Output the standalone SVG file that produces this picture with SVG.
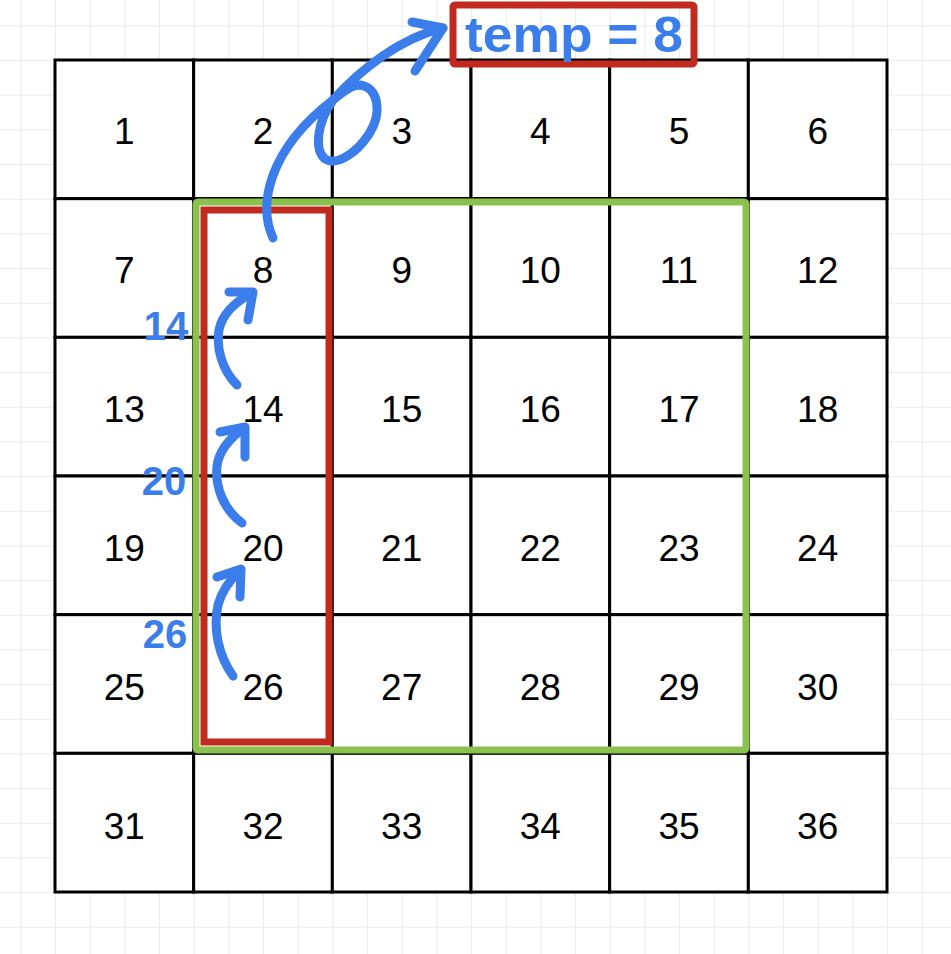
<svg xmlns="http://www.w3.org/2000/svg" width="951" height="954" viewBox="0 0 951 954">
<style>
.cell rect{fill:#ffffff;stroke:#000000;stroke-width:3}
.cell text{font-family:"Liberation Sans",Arial,sans-serif;font-size:37px;fill:#000000;text-anchor:middle}
.ink{fill:none;stroke:#3b7deb;stroke-width:9;stroke-linecap:round;stroke-linejoin:round}
.lbl{font-family:"Liberation Sans",Arial,sans-serif;font-weight:bold;font-size:40px;fill:#3b7deb;text-anchor:middle}
</style>
<defs>
<pattern id="bg" x="20.33" y="25.33" width="34.67" height="34.67" patternUnits="userSpaceOnUse">
<path d="M0 0.5H34.67M0.5 0V34.67" stroke="#ebebeb" stroke-width="1" fill="none"/>
</pattern>
</defs>
<rect width="951" height="954" fill="#ffffff"/>
<rect width="951" height="954" fill="url(#bg)"/>
<g id="grid">
<g id="c1" class="cell"><rect x="55" y="60" width="138.67" height="138.67"/><text x="124.3" y="144">1</text></g>
<g id="c2" class="cell"><rect x="193.67" y="60" width="138.67" height="138.67"/><text x="263" y="144">2</text></g>
<g id="c3" class="cell"><rect x="332.33" y="60" width="138.67" height="138.67"/><text x="401.7" y="144">3</text></g>
<g id="c4" class="cell"><rect x="471" y="60" width="138.67" height="138.67"/><text x="540.3" y="144">4</text></g>
<g id="c5" class="cell"><rect x="609.67" y="60" width="138.67" height="138.67"/><text x="679" y="144">5</text></g>
<g id="c6" class="cell"><rect x="748.33" y="60" width="138.67" height="138.67"/><text x="817.7" y="144">6</text></g>
<g id="c7" class="cell"><rect x="55" y="198.67" width="138.67" height="138.67"/><text x="124.3" y="283">7</text></g>
<g id="c8" class="cell"><rect x="193.67" y="198.67" width="138.67" height="138.67"/><text x="263" y="283">8</text></g>
<g id="c9" class="cell"><rect x="332.33" y="198.67" width="138.67" height="138.67"/><text x="401.7" y="283">9</text></g>
<g id="c10" class="cell"><rect x="471" y="198.67" width="138.67" height="138.67"/><text x="540.3" y="283">10</text></g>
<g id="c11" class="cell"><rect x="609.67" y="198.67" width="138.67" height="138.67"/><text x="679" y="283">11</text></g>
<g id="c12" class="cell"><rect x="748.33" y="198.67" width="138.67" height="138.67"/><text x="817.7" y="283">12</text></g>
<g id="c13" class="cell"><rect x="55" y="337.33" width="138.67" height="138.67"/><text x="124.3" y="422">13</text></g>
<g id="c14" class="cell"><rect x="193.67" y="337.33" width="138.67" height="138.67"/><text x="263" y="422">14</text></g>
<g id="c15" class="cell"><rect x="332.33" y="337.33" width="138.67" height="138.67"/><text x="401.7" y="422">15</text></g>
<g id="c16" class="cell"><rect x="471" y="337.33" width="138.67" height="138.67"/><text x="540.3" y="422">16</text></g>
<g id="c17" class="cell"><rect x="609.67" y="337.33" width="138.67" height="138.67"/><text x="679" y="422">17</text></g>
<g id="c18" class="cell"><rect x="748.33" y="337.33" width="138.67" height="138.67"/><text x="817.7" y="422">18</text></g>
<g id="c19" class="cell"><rect x="55" y="476" width="138.67" height="138.67"/><text x="124.3" y="561">19</text></g>
<g id="c20" class="cell"><rect x="193.67" y="476" width="138.67" height="138.67"/><text x="263" y="561">20</text></g>
<g id="c21" class="cell"><rect x="332.33" y="476" width="138.67" height="138.67"/><text x="401.7" y="561">21</text></g>
<g id="c22" class="cell"><rect x="471" y="476" width="138.67" height="138.67"/><text x="540.3" y="561">22</text></g>
<g id="c23" class="cell"><rect x="609.67" y="476" width="138.67" height="138.67"/><text x="679" y="561">23</text></g>
<g id="c24" class="cell"><rect x="748.33" y="476" width="138.67" height="138.67"/><text x="817.7" y="561">24</text></g>
<g id="c25" class="cell"><rect x="55" y="614.67" width="138.67" height="138.67"/><text x="124.3" y="700">25</text></g>
<g id="c26" class="cell"><rect x="193.67" y="614.67" width="138.67" height="138.67"/><text x="263" y="700">26</text></g>
<g id="c27" class="cell"><rect x="332.33" y="614.67" width="138.67" height="138.67"/><text x="401.7" y="700">27</text></g>
<g id="c28" class="cell"><rect x="471" y="614.67" width="138.67" height="138.67"/><text x="540.3" y="700">28</text></g>
<g id="c29" class="cell"><rect x="609.67" y="614.67" width="138.67" height="138.67"/><text x="679" y="700">29</text></g>
<g id="c30" class="cell"><rect x="748.33" y="614.67" width="138.67" height="138.67"/><text x="817.7" y="700">30</text></g>
<g id="c31" class="cell"><rect x="55" y="753.33" width="138.67" height="138.67"/><text x="124.3" y="839">31</text></g>
<g id="c32" class="cell"><rect x="193.67" y="753.33" width="138.67" height="138.67"/><text x="263" y="839">32</text></g>
<g id="c33" class="cell"><rect x="332.33" y="753.33" width="138.67" height="138.67"/><text x="401.7" y="839">33</text></g>
<g id="c34" class="cell"><rect x="471" y="753.33" width="138.67" height="138.67"/><text x="540.3" y="839">34</text></g>
<g id="c35" class="cell"><rect x="609.67" y="753.33" width="138.67" height="138.67"/><text x="679" y="839">35</text></g>
<g id="c36" class="cell"><rect x="748.33" y="753.33" width="138.67" height="138.67"/><text x="817.7" y="839">36</text></g>
</g>
<g id="inner-square"><rect x="196" y="202" width="550" height="548" fill="none" stroke="#8bc24f" stroke-width="7" rx="2"/></g>
<g id="column-box"><rect x="204" y="210" width="125" height="532" fill="none" stroke="#c22a1f" stroke-width="7"/></g>
<g id="temp"><rect x="453" y="5" width="241" height="59" fill="none" stroke="#c22a1f" stroke-width="7" rx="2"/><text x="465" y="52" textLength="218" lengthAdjust="spacingAndGlyphs" style="font-family:'Liberation Sans',Arial,sans-serif;font-weight:bold;font-size:50px;fill:#3b7deb">temp = 8</text></g>
<g id="labels">
<text class="lbl" x="166" y="340">14</text>
<text class="lbl" x="164" y="495">20</text>
<text class="lbl" x="165" y="648">26</text>
</g>
<g id="connectors">
<path class="ink" d="M273 238 C258 205 268 150 333 100 C344 91 352 85 360 85 C378 87 383 112 369 134 C356 154 336 166 325 159 C314 150 317 122 333 100 C360 70 400 38 443 28"/>
<path class="ink" d="M412 22 L443 28 L415 71"/>
<path class="ink" d="M233 676 C218 655 213 628 218 605 C222 590 230 580 239 571"/>
<path class="ink" d="M217 577 L241 569 L240 597"/>
<path class="ink" d="M242 523 C222 508 215 485 217 466 C219 450 230 438 244 428"/>
<path class="ink" d="M220 432 L245 427 L245 457"/>
<path class="ink" d="M237 385 C222 370 216 348 219 330 C222 315 235 302 252 293"/>
<path class="ink" d="M229 292 L253 292 L248 320"/>
</g>
</svg>
